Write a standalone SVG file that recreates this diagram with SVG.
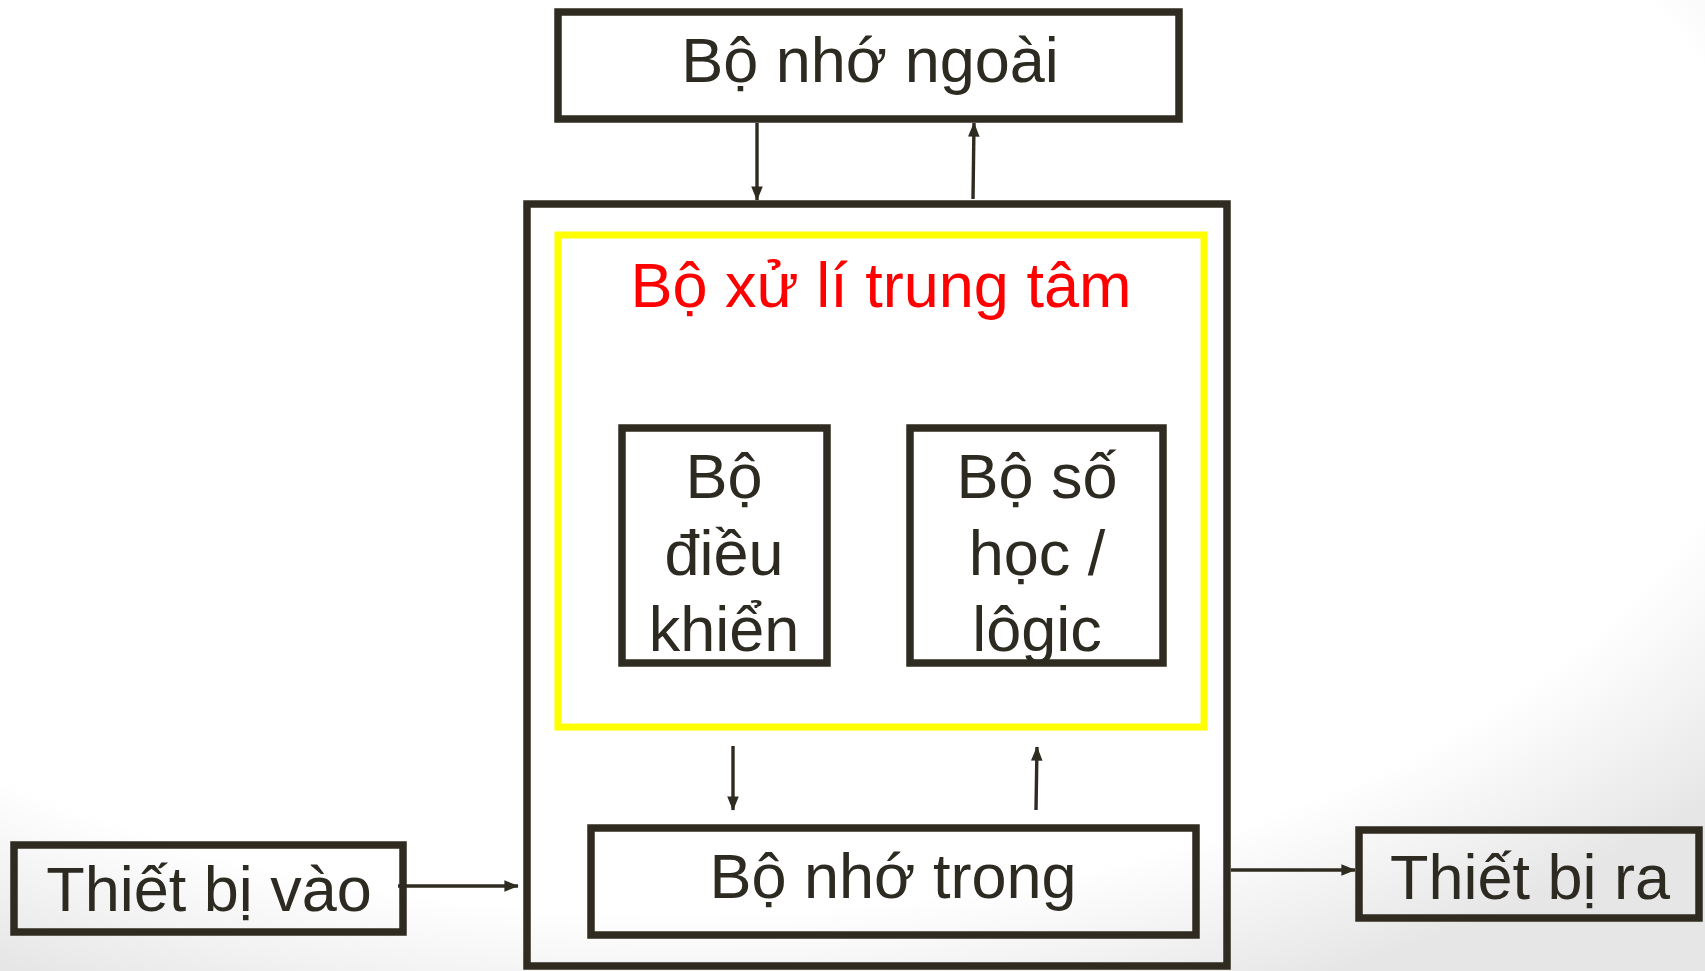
<svg xmlns="http://www.w3.org/2000/svg" width="1705" height="971" viewBox="0 0 1705 971">
<defs>
<radialGradient id="bg" cx="40%" cy="30%" r="80%">
<stop offset="0.8" stop-color="#ffffff"/>
<stop offset="1" stop-color="#e6e6e6"/>
</radialGradient>
<marker id="ah" markerWidth="4.2" markerHeight="3.4" refX="4" refY="1.7" orient="auto" markerUnits="strokeWidth">
<path d="M0,0 L4.2,1.7 L0,3.4 Z" fill="#2f2b21"/>
</marker>
</defs>
<style>
.box{fill:none;stroke:#2f2b21;stroke-width:7.5}
.cpu{fill:none;stroke:#ffff00;stroke-width:7}
.t{font-family:"Liberation Sans",Arial,sans-serif;font-size:63px;fill:#2d2a22;text-anchor:middle}
.red{fill:#ff0000}
.c{stroke:#2f2b21;stroke-width:3.4;fill:none;marker-end:url(#ah)}
</style>
<rect width="1705" height="971" fill="url(#bg)"/>
<g id="main">
<rect class="box" x="527" y="204" width="700" height="762"/>
</g>
<g id="cpu">
<rect class="cpu" x="558" y="235" width="646" height="492"/>
<text class="t red" x="881" y="307">Bộ xử lí trung tâm</text>
</g>
<g id="ngoai">
<rect class="box" x="558" y="12" width="621" height="107"/>
<text class="t" x="870" y="82">Bộ nhớ ngoài</text>
</g>
<g id="dieukhien">
<rect class="box" x="622" y="428" width="205" height="235"/>
<text class="t" x="724" y="498">Bộ</text>
<text class="t" x="724" y="575">điều</text>
<text class="t" x="724" y="651">khiển</text>
</g>
<g id="alu">
<rect class="box" x="910" y="428" width="253" height="235"/>
<text class="t" x="1037" y="498">Bộ số</text>
<text class="t" x="1037" y="575">học /</text>
<text class="t" x="1037" y="651">lôgic</text>
</g>
<g id="trong">
<rect class="box" x="591" y="828" width="605" height="107"/>
<text class="t" x="893" y="898">Bộ nhớ trong</text>
</g>
<g id="vao">
<rect class="box" x="14" y="845" width="389" height="87"/>
<text class="t" x="209" y="911">Thiết bị vào</text>
</g>
<g id="ra">
<rect class="box" x="1359" y="830" width="340" height="88"/>
<text class="t" x="1530" y="899">Thiết bị ra</text>
</g>
<g id="connectors">
<line class="c" x1="757" y1="123" x2="757" y2="200"/>
<line class="c" x1="973" y1="199" x2="974" y2="123"/>
<line class="c" x1="733" y1="746" x2="733" y2="810"/>
<line class="c" x1="1036" y1="810" x2="1037" y2="747"/>
<line class="c" x1="398" y1="886" x2="518" y2="886"/>
<line class="c" x1="1231" y1="870" x2="1355" y2="870"/>
</g>
</svg>
